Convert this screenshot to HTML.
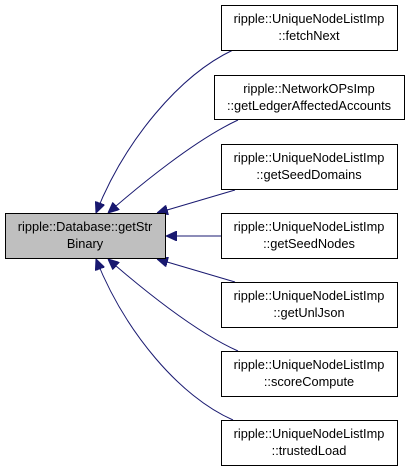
<!DOCTYPE html>
<html><head><style>
body{margin:0;background:#fff;}
svg{display:block}
text{font-family:"Liberation Sans",sans-serif;font-size:12.8px;text-anchor:middle;fill:#000}
</style></head><body>
<svg width="411" height="472" viewBox="0 0 411 472" xmlns="http://www.w3.org/2000/svg">
<defs><marker id="a" markerWidth="11" markerHeight="10" refX="11" refY="5" orient="auto" markerUnits="userSpaceOnUse"><path d="M0,0 L11,5 L0,10 z" fill="#191970" stroke="#191970"/></marker></defs>
<g fill="none" stroke="#191970" stroke-width="1">
<path d="M233,50 C180,75 125,140 96,213" marker-end="url(#a)"/>
<path d="M238,120 C195,140 140,185 108,213" marker-end="url(#a)"/>
<path d="M235,190 L157,213" marker-end="url(#a)"/>
<path d="M221,236 L166,236" marker-end="url(#a)"/>
<path d="M235,282 L157,259" marker-end="url(#a)"/>
<path d="M238,351 C195,332 140,287 108,259" marker-end="url(#a)"/>
<path d="M233,420 C180,397 125,332 96,259" marker-end="url(#a)"/>
</g>
<g stroke="#000" stroke-width="1">
<rect x="5.5" y="213.5" width="160" height="45" fill="#bfbfbf"/>
<rect x="221.5" y="5.5" width="176" height="45" fill="#fff"/>
<rect x="214.5" y="75.5" width="190" height="44" fill="#fff"/>
<rect x="221.5" y="144.5" width="176" height="45" fill="#fff"/>
<rect x="221.5" y="213.5" width="176" height="45" fill="#fff"/>
<rect x="221.5" y="282.5" width="176" height="45" fill="#fff"/>
<rect x="221.5" y="351.5" width="176" height="45" fill="#fff"/>
<rect x="221.5" y="420.5" width="176" height="45" fill="#fff"/>
</g>
<text x="85" y="231">ripple::Database::getStr</text><text x="85" y="248">Binary</text>
<text x="309" y="23">ripple::UniqueNodeListImp</text><text x="309" y="40">::fetchNext</text>
<text x="309" y="93">ripple::NetworkOPsImp</text><text x="309" y="110">::getLedgerAffectedAccounts</text>
<text x="309" y="162">ripple::UniqueNodeListImp</text><text x="309" y="179">::getSeedDomains</text>
<text x="309" y="231">ripple::UniqueNodeListImp</text><text x="309" y="248">::getSeedNodes</text>
<text x="309" y="300">ripple::UniqueNodeListImp</text><text x="309" y="317">::getUnlJson</text>
<text x="309" y="369">ripple::UniqueNodeListImp</text><text x="309" y="386">::scoreCompute</text>
<text x="309" y="438">ripple::UniqueNodeListImp</text><text x="309" y="455">::trustedLoad</text>
</svg>
</body></html>
